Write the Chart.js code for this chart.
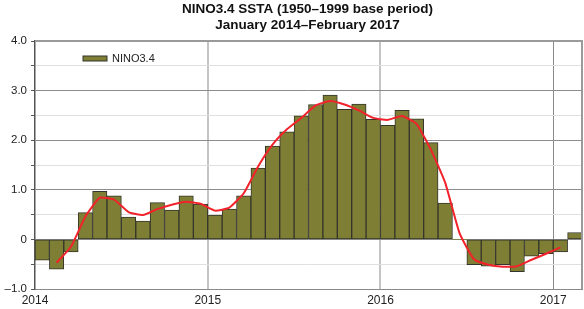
<!DOCTYPE html>
<html>
<head>
<meta charset="utf-8">
<script src="https://cdn.jsdelivr.net/npm/chart.js@4.4.1/dist/chart.umd.min.js"></script>
<style>
  html, body { margin: 0; padding: 0; background: #fff; }
  #box { width: 584px; height: 309px; position: relative; }
</style>
</head>
<body>
<div id="box"><canvas id="chart"></canvas></div>
<script>
// NINO3.4 SSTA monthly bars, Jan 2014 - Feb 2017, with 3-month running mean
const titleLines = ['NINO3.4 SSTA (1950\u20131999 base period)', 'January 2014\u2013February 2017'];
const startYear = 2014;
const yearTicks = [2014, 2015, 2016, 2017];

// monthly anomalies (deg C), Jan 2014 .. Feb 2017
const ssta = [
  -0.42, -0.60, -0.25, 0.54, 0.97, 0.88, 0.45, 0.37, 0.74, 0.59, 0.88, 0.71,
  0.49, 0.61, 0.88, 1.44, 1.88, 2.17, 2.49, 2.72, 2.91, 2.62, 2.73, 2.42,
  2.30, 2.60, 2.43, 1.95, 0.73, 0.00, -0.51, -0.54, -0.51, -0.65, -0.34, -0.29,
  -0.25, 0.14
];
// smoothed (red) line, Feb 2014 .. Jan 2017
const smooth = [
  -0.47, -0.15, 0.46, 0.84, 0.80, 0.55, 0.49, 0.61, 0.70, 0.76, 0.72,
  0.58, 0.64, 0.93, 1.47, 1.91, 2.22, 2.45, 2.70, 2.79, 2.72, 2.60, 2.45,
  2.41, 2.49, 2.33, 1.81, 1.14, 0.12, -0.40, -0.51, -0.55, -0.54, -0.41, -0.29,
  -0.16
];
const smoothStart = 1; // first month index of smoothed line

const OLIVE = '#7e7f35';
const EDGE = '#35352b';

const barData = ssta.map((v, i) => ({ x: i + 0.5, y: v }));
const lineData = smooth.map((v, i) => ({ x: i + smoothStart + 0.5, y: v }));

const frame = {
  id: 'frame',
  afterDraw(c) {
    const ctx = c.ctx, a = c.chartArea;
    ctx.save();
    // top and right border
    ctx.strokeStyle = '#9a9a9a';
    ctx.lineWidth = 2;
    ctx.beginPath();
    ctx.moveTo(a.left, a.top);
    ctx.lineTo(a.right, a.top);
    ctx.lineTo(a.right, a.bottom);
    ctx.stroke();
    // title
    ctx.fillStyle = '#111';
    ctx.font = 'bold 13.5px "Liberation Sans", Arial, sans-serif';
    ctx.textAlign = 'center';
    ctx.textBaseline = 'middle';
    const cx = (a.left + a.right) / 2 - 1;
    ctx.fillText(titleLines[0], cx, 9);
    ctx.fillText(titleLines[1], cx, 25);
    // legend
    ctx.fillStyle = OLIVE;
    ctx.fillRect(83, 56, 24, 5);
    ctx.strokeStyle = EDGE;
    ctx.lineWidth = 1;
    ctx.strokeRect(83, 56, 24, 5);
    ctx.fillStyle = '#222';
    ctx.font = '11px "Liberation Sans", Arial, sans-serif';
    ctx.textAlign = 'left';
    ctx.fillText(c.data.datasets[0].label, 112, 59);
    ctx.restore();
  }
};

new Chart(document.getElementById('chart'), {
  data: {
    datasets: [
      {
        type: 'bar', label: 'NINO3.4', data: barData, order: 2,
        backgroundColor: OLIVE, borderColor: EDGE,
        borderWidth: ctx => (ctx.raw && ctx.raw.y === 0 ? 0 : 1),
        borderSkipped: false,
        barPercentage: 1, categoryPercentage: 1
      },
      {
        type: 'line', label: 'smooth', data: lineData, order: 1,
        borderColor: '#f2222b', borderWidth: 2, pointRadius: 0, tension: 0.15, fill: false
      }
    ]
  },
  options: {
    responsive: true, maintainAspectRatio: false, animation: false,
    layout: { padding: { top: 41, right: 2, left: 0, bottom: 0 } },
    plugins: { legend: { display: false }, title: { display: false }, tooltip: { enabled: false } },
    scales: {
      x: {
        type: 'linear', min: 0, max: ssta.length, offset: false,
        afterBuildTicks: s => { s.ticks = yearTicks.map(y => ({ value: (y - startYear) * 12 })); },
        afterFit: s => { s.height = 20; },
        ticks: {
          callback: v => String(startYear + v / 12),
          color: '#222', font: { size: 12, family: '"Liberation Sans", Arial, sans-serif' },
          padding: 4, maxRotation: 0, autoSkip: false
        },
        grid: {
          offset: false,
          drawTicks: false,
          color: ctx => (ctx.tick && ctx.tick.value === 36 ? '#8a8a8a' : ctx.tick && ctx.tick.value === 0 ? 'rgba(0,0,0,0)' : '#c4c4c4'),
          lineWidth: ctx => (ctx.tick && ctx.tick.value === 36 ? 1 : 2)
        },
        border: { display: true, color: '#8a8a8a', width: 1 }
      },
      y: {
        min: -1, max: 4,
        afterFit: s => { s.width = 35; },
        ticks: {
          stepSize: 0.5,
          callback: v => (Number.isInteger(v) ? (v === 0 ? '0' : v < 0 ? '\u2013' + Math.abs(v).toFixed(1) : v.toFixed(1)) : ''),
          color: '#222', font: { size: 11.5, family: '"Liberation Sans", Arial, sans-serif' },
          padding: 4
        },
        grid: {
          tickLength: 4,
          tickColor: '#555',
          color: ctx => (ctx.tick && Number.isInteger(ctx.tick.value) ? '#8c8c8c' : '#e0e0e0'),
          lineWidth: 1
        },
        border: { display: true, color: '#555', width: 1.5 }
      }
    }
  },
  plugins: [frame]
});
</script>
</body>
</html>
